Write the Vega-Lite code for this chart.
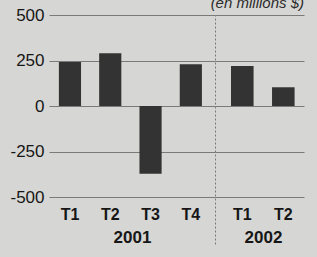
{
  "$schema": "https://vega.github.io/schema/vega-lite/v6.json",
  "padding": {"left": 9, "top": -4, "right": 14, "bottom": 14},
  "background": "#d6d6d4",
  "title": {
    "text": "(en millions $)",
    "anchor": "end",
    "fontSize": 15,
    "fontStyle": "italic",
    "fontWeight": "normal",
    "font": "Liberation Sans",
    "color": "#2a2a2a",
    "offset": -5
  },
  "data": {
    "values": [
      {"annee": "2001", "trimestre": "T1", "valeur": 242},
      {"annee": "2001", "trimestre": "T2", "valeur": 290},
      {"annee": "2001", "trimestre": "T3", "valeur": -372},
      {"annee": "2001", "trimestre": "T4", "valeur": 229},
      {"annee": "2002", "trimestre": "T1", "valeur": 220},
      {"annee": "2002", "trimestre": "T2", "valeur": 103}
    ]
  },
  "spacing": 0,
  "hconcat": [
    {
      "width": 166,
      "height": 229,
      "transform": [{"filter": "datum.annee == '2001'"}],
      "mark": {"type": "bar", "color": "#333333"},
      "encoding": {
        "x": {
          "field": "trimestre",
          "type": "nominal",
          "sort": ["T1", "T2", "T3", "T4"],
          "scale": {"paddingInner": 0.45, "paddingOuter": 0.285, "align": 0.43},
          "axis": {
            "orient": "bottom",
            "offset": -47,
            "ticks": false,
            "domain": false,
            "labelAngle": 0,
            "labelPadding": 9,
            "labelFontSize": 16,
            "labelFontWeight": "bold",
            "title": "2001",
            "titleFontSize": 17,
            "titleFontWeight": "bold",
            "titlePadding": 7
          }
        },
        "y": {
          "field": "valeur",
          "type": "quantitative",
          "scale": {"domain": [-758, 500], "nice": false, "zero": true},
          "axis": {
            "values": [-500, -250, 0, 250, 500],
            "labelExpr": "'' + datum.value",
            "grid": true,
            "domain": false,
            "ticks": false,
            "title": null,
            "labelPadding": 5,
            "labelFontSize": 17,
            "labelFontWeight": "normal"
          }
        }
      }
    },
    {
      "width": 89,
      "height": 229,
      "transform": [{"filter": "datum.annee == '2002'"}],
      "mark": {"type": "bar", "color": "#333333"},
      "encoding": {
        "x": {
          "field": "trimestre",
          "type": "nominal",
          "sort": ["T1", "T2"],
          "scale": {"paddingInner": 0.45, "paddingOuter": 0.31, "align": 0.63},
          "axis": {
            "orient": "bottom",
            "offset": -47,
            "ticks": false,
            "domain": false,
            "labelAngle": 0,
            "labelPadding": 9,
            "labelFontSize": 16,
            "labelFontWeight": "bold",
            "title": "2002",
            "titleFontSize": 17,
            "titleFontWeight": "bold",
            "titlePadding": 7,
            "titleX": 48
          }
        },
        "y": {
          "field": "valeur",
          "type": "quantitative",
          "scale": {"domain": [-758, 500], "nice": false, "zero": true},
          "axis": {
            "values": [-500, -250, 0, 250, 500],
            "grid": true,
            "labels": false,
            "domain": true,
            "domainColor": "#7a7a7a",
            "domainDash": [2, 2],
            "domainWidth": 1,
            "ticks": false,
            "title": null,
            "minExtent": 0
          }
        }
      }
    }
  ],
  "config": {
    "view": {"stroke": null},
    "font": "Liberation Sans",
    "axis": {
      "labelFont": "Liberation Sans",
      "titleFont": "Liberation Sans",
      "labelColor": "#161616",
      "titleColor": "#161616",
      "gridColor": "#7a7a7a",
      "gridOpacity": 1,
      "gridWidth": 1
    }
  }
}
